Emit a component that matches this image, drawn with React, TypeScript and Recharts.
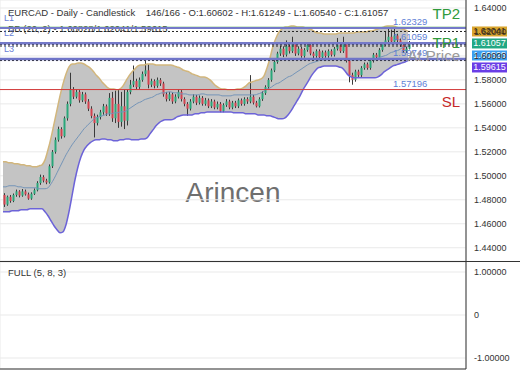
import React from 'react';
import {
  ComposedChart,
  Bar,
  Line,
  Area,
  XAxis,
  YAxis,
  CartesianGrid,
  ReferenceLine
} from 'recharts';

// EURCAD daily candles
const opens = [
  1.4840, 1.4760, 1.4825, 1.4790, 1.4840, 1.4870, 1.4835, 1.4870, 1.4845, 1.4810,
  1.4850, 1.4880, 1.4940, 1.4990, 1.4960, 1.4945, 1.5080, 1.5200, 1.5300, 1.5390,
  1.5330, 1.5480, 1.5600, 1.5720, 1.5660, 1.5700, 1.5630, 1.5680, 1.5620, 1.5560,
  1.5500, 1.5440, 1.5490, 1.5530, 1.5580, 1.5520, 1.5650, 1.5480, 1.5600, 1.5450,
  1.5580, 1.5460, 1.5700, 1.5760, 1.5790, 1.5740, 1.5800, 1.5850, 1.5880, 1.5760,
  1.5790, 1.5750, 1.5800, 1.5770, 1.5680, 1.5640, 1.5680, 1.5620, 1.5660, 1.5700,
  1.5640, 1.5600, 1.5560, 1.5620, 1.5660, 1.5610, 1.5650, 1.5600, 1.5630, 1.5580,
  1.5620, 1.5570, 1.5600, 1.5540, 1.5590, 1.5620, 1.5570, 1.5610, 1.5580, 1.5630,
  1.5600, 1.5640, 1.5620, 1.5660, 1.5610, 1.5580, 1.5640, 1.5690, 1.5740, 1.5800,
  1.5880, 1.5950, 1.6020, 1.6060, 1.6010, 1.6080, 1.6040, 1.6100, 1.6020, 1.6060,
  1.6000, 1.6050, 1.6090, 1.6020, 1.6000, 1.6040, 1.5990, 1.6030, 1.6000, 1.6040,
  1.6010, 1.6060, 1.6090, 1.6040, 1.6100, 1.5960, 1.5840, 1.5800, 1.5870, 1.5840,
  1.5900, 1.5930, 1.5900, 1.5960, 1.6010, 1.5990, 1.6050, 1.6100, 1.6130, 1.6160,
  1.6120, 1.6170, 1.6130, 1.6090, 1.6040, 1.60602
];
const highs = [
  1.4855, 1.4835, 1.4840, 1.4852, 1.4885, 1.4880, 1.4890, 1.4885, 1.4860, 1.4862,
  1.4895, 1.4955, 1.5010, 1.5005, 1.4975, 1.5095, 1.5215, 1.5320, 1.5410, 1.5405,
  1.5495, 1.5620, 1.5860, 1.5740, 1.5720, 1.5715, 1.5700, 1.5695, 1.5640, 1.5580,
  1.5520, 1.5510, 1.5550, 1.5600, 1.5595, 1.5690, 1.5700, 1.5710, 1.5720, 1.5700,
  1.5720, 1.5720, 1.5800, 1.5920, 1.5810, 1.5820, 1.5870, 1.5960, 1.5930, 1.5810,
  1.5805, 1.5820, 1.5815, 1.5785, 1.5700, 1.5700, 1.5695, 1.5680, 1.5720, 1.5715,
  1.5655, 1.5615, 1.5640, 1.5680, 1.5675, 1.5670, 1.5665, 1.5650, 1.5645, 1.5640,
  1.5635, 1.5620, 1.5615, 1.5605, 1.5640, 1.5635, 1.5625, 1.5625, 1.5645, 1.5645,
  1.5655, 1.5655, 1.5840, 1.5675, 1.5625, 1.5655, 1.5705, 1.5755, 1.5815, 1.5895,
  1.5965, 1.6035, 1.6085, 1.6080, 1.6130, 1.6100, 1.6160, 1.6115, 1.6080, 1.6075,
  1.6065, 1.6110, 1.6105, 1.6035, 1.6055, 1.6055, 1.6045, 1.6045, 1.6055, 1.6055,
  1.6075, 1.6150, 1.6105, 1.6160, 1.6115, 1.5975, 1.5860, 1.5885, 1.5885, 1.5915,
  1.5945, 1.5945, 1.5975, 1.6025, 1.6025, 1.6065, 1.6115, 1.6200, 1.6230, 1.6220,
  1.6233, 1.6185, 1.6145, 1.6105, 1.6075, 1.61249
];
const lows = [
  1.4740, 1.4750, 1.4775, 1.4780, 1.4825, 1.4820, 1.4825, 1.4835, 1.4800, 1.4800,
  1.4840, 1.4870, 1.4925, 1.4945, 1.4930, 1.4935, 1.5065, 1.5185, 1.5285, 1.5310,
  1.5320, 1.5460, 1.5580, 1.5640, 1.5645, 1.5610, 1.5615, 1.5600, 1.5540, 1.5480,
  1.5320, 1.5420, 1.5470, 1.5510, 1.5500, 1.5500, 1.5450, 1.5440, 1.5400, 1.5410,
  1.5390, 1.5420, 1.5680, 1.5740, 1.5720, 1.5725, 1.5785, 1.5830, 1.5730, 1.5740,
  1.5730, 1.5735, 1.5750, 1.5660, 1.5620, 1.5625, 1.5600, 1.5605, 1.5645, 1.5620,
  1.5580, 1.5500, 1.5545, 1.5605, 1.5590, 1.5595, 1.5585, 1.5585, 1.5565, 1.5565,
  1.5555, 1.5555, 1.5530, 1.5530, 1.5575, 1.5555, 1.5555, 1.5565, 1.5565, 1.5585,
  1.5585, 1.5600, 1.5605, 1.5595, 1.5570, 1.5570, 1.5625, 1.5675, 1.5725, 1.5785,
  1.5865, 1.5935, 1.6000, 1.5990, 1.5995, 1.6020, 1.6025, 1.6000, 1.6005, 1.5985,
  1.5985, 1.6035, 1.6005, 1.5980, 1.5985, 1.5975, 1.5975, 1.5985, 1.5985, 1.5995,
  1.5995, 1.6045, 1.6025, 1.6025, 1.5945, 1.5780, 1.5760, 1.5785, 1.5825, 1.5825,
  1.5885, 1.5885, 1.5885, 1.5945, 1.5975, 1.5975, 1.6035, 1.6085, 1.6115, 1.6105,
  1.6105, 1.6115, 1.6075, 1.6025, 1.6025, 1.60540
];
const closes = [
  1.4760, 1.4825, 1.4790, 1.4840, 1.4870, 1.4835, 1.4870, 1.4845, 1.4810, 1.4850,
  1.4880, 1.4940, 1.4990, 1.4960, 1.4945, 1.5080, 1.5200, 1.5300, 1.5390, 1.5330,
  1.5480, 1.5600, 1.5720, 1.5660, 1.5700, 1.5630, 1.5680, 1.5620, 1.5560, 1.5500,
  1.5440, 1.5490, 1.5530, 1.5580, 1.5520, 1.5650, 1.5480, 1.5600, 1.5450, 1.5580,
  1.5460, 1.5700, 1.5760, 1.5790, 1.5740, 1.5800, 1.5850, 1.5880, 1.5760, 1.5790,
  1.5750, 1.5800, 1.5770, 1.5680, 1.5640, 1.5680, 1.5620, 1.5660, 1.5700, 1.5640,
  1.5600, 1.5560, 1.5620, 1.5660, 1.5610, 1.5650, 1.5600, 1.5630, 1.5580, 1.5620,
  1.5570, 1.5600, 1.5540, 1.5590, 1.5620, 1.5570, 1.5610, 1.5580, 1.5630, 1.5600,
  1.5640, 1.5620, 1.5660, 1.5610, 1.5580, 1.5640, 1.5690, 1.5740, 1.5800, 1.5880,
  1.5950, 1.6020, 1.6060, 1.6010, 1.6080, 1.6040, 1.6100, 1.6020, 1.6060, 1.6000,
  1.6050, 1.6090, 1.6020, 1.6000, 1.6040, 1.5990, 1.6030, 1.6000, 1.6040, 1.6010,
  1.6060, 1.6090, 1.6040, 1.6100, 1.5960, 1.5840, 1.5800, 1.5870, 1.5840, 1.5900,
  1.5930, 1.5900, 1.5960, 1.6010, 1.5990, 1.6050, 1.6100, 1.6130, 1.6160, 1.6120,
  1.6170, 1.6130, 1.6090, 1.6040, 1.6060, 1.61057
];

// Bollinger bands (20, 2)
const bbUpper = [
  1.5117, 1.5117, 1.5108, 1.5108, 1.5100, 1.5100, 1.5092, 1.5092, 1.5083, 1.5083,
  1.5075, 1.5075, 1.5083, 1.5092, 1.5133, 1.5217, 1.5317, 1.5433, 1.5550, 1.5667,
  1.5767, 1.5850, 1.5908, 1.5933, 1.5933, 1.5942, 1.5942, 1.5933, 1.5917, 1.5900,
  1.5875, 1.5842, 1.5817, 1.5783, 1.5758, 1.5733, 1.5725, 1.5725, 1.5717, 1.5725,
  1.5750, 1.5792, 1.5833, 1.5867, 1.5892, 1.5917, 1.5925, 1.5925, 1.5933, 1.5933,
  1.5933, 1.5925, 1.5925, 1.5925, 1.5925, 1.5925, 1.5925, 1.5917, 1.5908, 1.5900,
  1.5883, 1.5875, 1.5867, 1.5850, 1.5842, 1.5833, 1.5825, 1.5825, 1.5817, 1.5800,
  1.5775, 1.5750, 1.5733, 1.5725, 1.5725, 1.5717, 1.5717, 1.5717, 1.5725, 1.5725,
  1.5733, 1.5750, 1.5775, 1.5783, 1.5792, 1.5800, 1.5808, 1.5833, 1.5900, 1.5983,
  1.6083, 1.6150, 1.6200, 1.6225, 1.6242, 1.6242, 1.6250, 1.6250, 1.6242, 1.6242,
  1.6242, 1.6233, 1.6225, 1.6217, 1.6200, 1.6192, 1.6192, 1.6183, 1.6183, 1.6183,
  1.6183, 1.6183, 1.6192, 1.6192, 1.6192, 1.6192, 1.6192, 1.6192, 1.6200, 1.6200,
  1.6200, 1.6200, 1.6208, 1.6208, 1.6217, 1.6225, 1.6233, 1.6242, 1.6250, 1.6250,
  1.6250, 1.6242, 1.6233, 1.6225, 1.6217, 1.62041
];
const bbMiddle = [
  1.4908, 1.4908, 1.4917, 1.4917, 1.4917, 1.4908, 1.4908, 1.4900, 1.4900, 1.4900,
  1.4900, 1.4900, 1.4892, 1.4892, 1.4892, 1.4900, 1.4933, 1.4975, 1.5025, 1.5075,
  1.5125, 1.5175, 1.5217, 1.5258, 1.5292, 1.5325, 1.5358, 1.5392, 1.5417, 1.5442,
  1.5467, 1.5483, 1.5492, 1.5500, 1.5508, 1.5517, 1.5517, 1.5525, 1.5525, 1.5533,
  1.5533, 1.5542, 1.5558, 1.5575, 1.5592, 1.5608, 1.5617, 1.5633, 1.5642, 1.5650,
  1.5658, 1.5675, 1.5683, 1.5692, 1.5692, 1.5700, 1.5700, 1.5692, 1.5692, 1.5683,
  1.5683, 1.5683, 1.5675, 1.5675, 1.5675, 1.5675, 1.5683, 1.5683, 1.5675, 1.5675,
  1.5675, 1.5675, 1.5675, 1.5667, 1.5667, 1.5667, 1.5667, 1.5675, 1.5675, 1.5675,
  1.5675, 1.5675, 1.5675, 1.5675, 1.5675, 1.5683, 1.5692, 1.5708, 1.5725, 1.5733,
  1.5750, 1.5767, 1.5775, 1.5792, 1.5808, 1.5825, 1.5833, 1.5850, 1.5867, 1.5883,
  1.5900, 1.5917, 1.5933, 1.5942, 1.5950, 1.5958, 1.5967, 1.5967, 1.5967, 1.5975,
  1.5975, 1.5975, 1.5975, 1.5975, 1.5975, 1.5967, 1.5967, 1.5967, 1.5967, 1.5967,
  1.5975, 1.5975, 1.5975, 1.5975, 1.5975, 1.5983, 1.5992, 1.6000, 1.6008, 1.6025,
  1.6033, 1.6042, 1.6050, 1.6067, 1.6075, 1.60828
];
const bbLower = [
  1.4700, 1.4700, 1.4700, 1.4708, 1.4708, 1.4708, 1.4717, 1.4717, 1.4717, 1.4725,
  1.4725, 1.4725, 1.4725, 1.4725, 1.4700, 1.4667, 1.4625, 1.4583, 1.4550, 1.4525,
  1.4533, 1.4592, 1.4700, 1.4833, 1.4967, 1.5075, 1.5158, 1.5217, 1.5250, 1.5275,
  1.5292, 1.5300, 1.5300, 1.5308, 1.5308, 1.5300, 1.5300, 1.5292, 1.5292, 1.5300,
  1.5300, 1.5308, 1.5308, 1.5300, 1.5300, 1.5300, 1.5308, 1.5308, 1.5317, 1.5350,
  1.5383, 1.5417, 1.5442, 1.5458, 1.5467, 1.5467, 1.5467, 1.5475, 1.5492, 1.5500,
  1.5508, 1.5508, 1.5508, 1.5508, 1.5517, 1.5517, 1.5525, 1.5525, 1.5533, 1.5533,
  1.5533, 1.5533, 1.5533, 1.5533, 1.5533, 1.5533, 1.5533, 1.5525, 1.5525, 1.5525,
  1.5525, 1.5517, 1.5517, 1.5517, 1.5517, 1.5508, 1.5508, 1.5508, 1.5500, 1.5500,
  1.5492, 1.5483, 1.5475, 1.5475, 1.5483, 1.5508, 1.5542, 1.5583, 1.5625, 1.5667,
  1.5717, 1.5758, 1.5800, 1.5842, 1.5875, 1.5900, 1.5908, 1.5917, 1.5917, 1.5917,
  1.5917, 1.5917, 1.5908, 1.5900, 1.5875, 1.5842, 1.5825, 1.5817, 1.5817, 1.5817,
  1.5817, 1.5817, 1.5817, 1.5817, 1.5817, 1.5825, 1.5842, 1.5867, 1.5883, 1.5900,
  1.5917, 1.5925, 1.5933, 1.5942, 1.5950, 1.59615
];

const priceTicks = [1.44, 1.46, 1.48, 1.5, 1.52, 1.54, 1.56, 1.58, 1.6, 1.62, 1.64];
const stochTicks = [-1, 0, 1];
const gridIdx = [26.33, 53, 79.33, 105.33, 132];

// trade levels
const tp2Green = 1.6240;
const tp2 = 1.62329;
const tp1 = 1.61059;
const atPrice = 1.59749;
const stopLoss = 1.57196;
const dottedLevels = [1.62041, 1.6095, 1.60828, 1.59615];

// last values shown on the price axis
const badgeValues = [1.62041, 1.61057, 1.60828, 1.59615];
const badgeFill = ['#d9a52f', '#22a884', '#3b9ef0', '#6a3de6'];
const badgeText = ['#3d2a00', '#ffffff', '#ffffff', '#ffffff'];

const FONT = '"Liberation Sans", Arial, sans-serif';
const W = 520;
const MAIN_H = 261;
const LOW_H = 108;
const priceDomain: [number, number] = [1.42892, 1.64667];
const stochDomain: [number, number] = [-1.256, 1.233];
const xDomain: [number, number] = [-1, 154.33];

const data = closes.map((c, i) => ({
  i,
  o: opens[i],
  h: highs[i],
  l: lows[i],
  c,
  range: [lows[i], highs[i]],
  band: [bbLower[i], bbUpper[i]],
  upper: bbUpper[i],
  middle: bbMiddle[i],
  lower: bbLower[i]
}));

const Candle = (props: any) => {
  const { x, y, width, height, payload } = props;
  if (!payload || x == null) return null;
  const top = Math.min(y, y + height);
  const span = Math.abs(height);
  const k = payload.h - payload.l > 0 ? span / (payload.h - payload.l) : 0;
  const cx = Math.round(x + width / 2) + 0.5;
  const bTop = top + (payload.h - Math.max(payload.o, payload.c)) * k;
  const bBot = top + (payload.h - Math.min(payload.o, payload.c)) * k;
  const up = payload.c >= payload.o;
  return (
    <g>
      <line x1={cx} x2={cx} y1={top} y2={top + span} stroke="#3a3a3a" strokeWidth={1} />
      <rect
        x={cx - 1}
        y={bTop}
        width={2}
        height={Math.max(1, bBot - bTop)}
        fill={up ? '#2aa77a' : '#d2424f'}
      />
    </g>
  );
};

const levelLabel =
  (tag: string, value: string, name: string, nameColor: string, nameDy: number) =>
  (props: any) => {
    const vb = props.viewBox || {};
    const y = vb.y;
    const right = vb.x + vb.width;
    return (
      <g style={{ fontFamily: FONT }}>
        {tag && (
          <text x={vb.x + 4} y={y - 10} fontSize={9} fill="#6a80d4" dominantBaseline="central">
            {tag}
          </text>
        )}
        {value && (
          <text x={393} y={y - 6.5} fontSize={9.5} fill="#5f7fd6" dominantBaseline="central">
            {value}
          </text>
        )}
        {name && (
          <text
            x={right - 6}
            y={y + nameDy}
            fontSize={15}
            fill={nameColor}
            textAnchor="end"
            dominantBaseline="central"
          >
            {name}
          </text>
        )}
      </g>
    );
  };

const badgeLabel = (idx: number) => (props: any) => {
  const vb = props.viewBox || {};
  const bx = vb.x + vb.width + 6;
  return (
    <g style={{ fontFamily: FONT }}>
      <rect x={bx} y={vb.y - 5} width={35} height={10} fill={badgeFill[idx]} />
      <text
        x={bx + 17.5}
        y={vb.y}
        fontSize={9}
        fill={badgeText[idx]}
        textAnchor="middle"
        dominantBaseline="central"
      >
        {badgeValues[idx].toFixed(5)}
      </text>
    </g>
  );
};

export default function App() {
  // keep axis badges from overlapping (at least 12px apart)
  const pricePerPx = (priceDomain[1] - priceDomain[0]) / MAIN_H;
  let prev = Infinity;
  const badgeAt = badgeValues.map((v) => {
    const p = Math.min(v, prev - 12 * pricePerPx);
    prev = p;
    return p;
  });

  return (
    <div
      style={{
        position: 'absolute',
        left: 0,
        top: 0,
        width: W,
        height: 390,
        background: '#fff',
        fontFamily: FONT,
        overflow: 'hidden'
      }}
    >
      <div style={{ position: 'absolute', left: 8, top: 7, fontSize: 9.5, color: '#333', whiteSpace: 'pre', lineHeight: '12px' }}>
        {'EURCAD - Daily - Candlestick    146/166 - O:1.60602 - H:1.61249 - L:1.60540 - C:1.61057'}
      </div>
      <div style={{ position: 'absolute', left: 8, top: 23, fontSize: 9.5, color: '#333', whiteSpace: 'pre', lineHeight: '12px' }}>
        {'BB (20, 2) - 1.60828/1.62041/1.59615'}
      </div>
      <div style={{ position: 'absolute', left: 0, width: 466, top: 176, textAlign: 'center', fontSize: 28, color: '#6f6f6f', lineHeight: '34px' }}>
        Arincen
      </div>

      <div style={{ position: 'absolute', left: 0, top: 0 }}>
        <ComposedChart width={W} height={MAIN_H} data={data} margin={{ top: 0, right: 0, bottom: 0, left: 0 }}>
          <CartesianGrid stroke="#e9e9e9" />
          <XAxis
            dataKey="i"
            type="number"
            domain={xDomain}
            ticks={gridIdx}
            allowDataOverflow
            height={0}
            tick={false}
            tickLine={false}
            axisLine={false}
          />
          <YAxis
            orientation="right"
            width={54}
            domain={priceDomain}
            ticks={priceTicks}
            allowDataOverflow
            tickLine={false}
            axisLine={{ stroke: '#333' }}
            tick={{ fontSize: 9, fill: '#333', fontFamily: FONT }}
            tickFormatter={(v) => Number(v).toFixed(5)}
          />
          <Area
            type="monotone"
            dataKey="band"
            stroke="none"
            fill="#c4c4c4"
            fillOpacity={1}
            activeDot={false}
            isAnimationActive={false}
          />
          <Line type="monotone" dataKey="upper" stroke="#d2b67c" strokeWidth={1.5} dot={false} activeDot={false} isAnimationActive={false} />
          <Line type="monotone" dataKey="lower" stroke="#6c63d8" strokeWidth={1.5} dot={false} activeDot={false} isAnimationActive={false} />
          <Line type="monotone" dataKey="middle" stroke="#7595b8" strokeWidth={1} dot={false} activeDot={false} isAnimationActive={false} />
          <Bar dataKey="range" barSize={2} shape={Candle} activeBar={false} isAnimationActive={false} />

          {dottedLevels.map((v) => (
            <ReferenceLine key={v} y={v} stroke="#222" strokeDasharray="2 2" strokeWidth={1} />
          ))}
          <ReferenceLine y={tp2Green} stroke="#72c06c" strokeWidth={1} label={levelLabel('', '', 'TP2', '#2f9a3c', -14)} />
          <ReferenceLine y={tp2} stroke="#7479c9" strokeWidth={2} label={levelLabel('L1', '1.62329', '', '', 0)} />
          <ReferenceLine y={tp1} stroke="#7479c9" strokeWidth={2.5} label={levelLabel('L2', '1.61059', 'TP1', '#2f9a3c', -1)} />
          <ReferenceLine y={atPrice} stroke="#6f74c8" strokeWidth={2.5} label={levelLabel('L3', '1.59749', 'At Price', '#9a9a9a', -3)} />
          <ReferenceLine y={stopLoss} stroke="#d23a3a" strokeWidth={1} label={levelLabel('', '1.57196', 'SL', '#c62828', 12)} />

          {badgeAt.map((p, idx) => (
            <ReferenceLine key={`b${idx}`} y={p} strokeOpacity={0} label={badgeLabel(idx)} />
          ))}
        </ComposedChart>
      </div>

      <div style={{ position: 'absolute', left: 0, top: MAIN_H, width: W, borderTop: '1px solid #333' }}>
        <ComposedChart width={W} height={LOW_H} data={data} margin={{ top: 0, right: 0, bottom: 0, left: 0 }}>
          <CartesianGrid stroke="#e9e9e9" />
          <XAxis
            dataKey="i"
            type="number"
            domain={xDomain}
            ticks={gridIdx}
            allowDataOverflow
            height={1}
            tick={false}
            tickLine={false}
            axisLine={{ stroke: '#333' }}
          />
          <YAxis
            orientation="right"
            width={54}
            domain={stochDomain}
            ticks={stochTicks}
            allowDataOverflow
            tickLine={false}
            axisLine={{ stroke: '#333' }}
            tick={{ fontSize: 9, fill: '#333', fontFamily: FONT }}
            tickFormatter={(v) => (Number(v) === 0 ? '0' : Number(v).toFixed(5))}
          />
          <Line dataKey="stoch" stroke="#333" dot={false} activeDot={false} isAnimationActive={false} />
        </ComposedChart>
      </div>
      <div style={{ position: 'absolute', left: 8, top: 267, fontSize: 9.5, color: '#333', whiteSpace: 'pre', lineHeight: '12px' }}>
        {'FULL (5, 8, 3)'}
      </div>
    </div>
  );
}
